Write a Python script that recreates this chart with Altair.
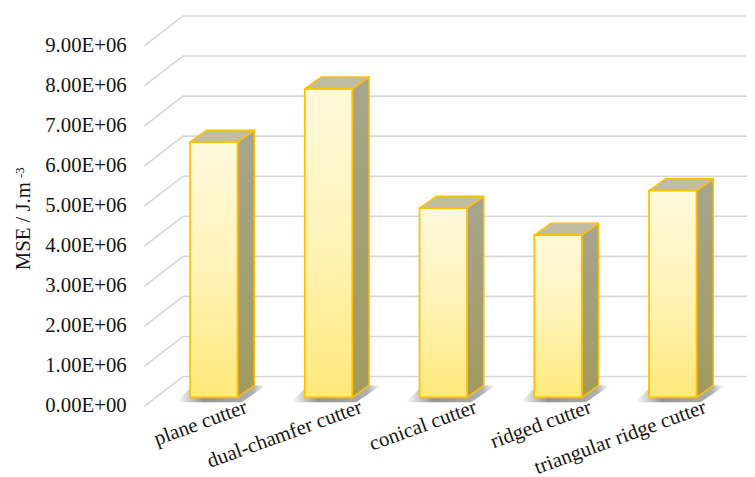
import altair as alt
import pandas as pd

# ---------------- data ----------------
categories = ["plane cutter", "dual-chamfer cutter", "conical cutter",
              "ridged cutter", "triangular ridge cutter"]
mse_values = [6.37e6, 7.70e6, 4.72e6, 4.05e6, 5.16e6]
tick_values = [0, 1e6, 2e6, 3e6, 4e6, 5e6, 6e6, 7e6, 8e6, 9e6]
y_title = "MSE / J.m"
y_title_sup = "-3"

# ---------------- geometry (pixels -> scale units) ----------------
PX_X = 116.0          # px per category step
PX_Y = 40.5e-6        # px per value unit
W, H = 609, 400
x_min = -70 / PX_X
x_max = x_min + W / PX_X
y_max = H / PX_Y

hw = 24 / PX_X                      # half bar width
bdx, bdy = 17 / PX_X, 12 / PX_Y     # bar depth
base = 9 / PX_Y                     # bar floor plane
wdx, wdy = 39 / PX_X, 30 / PX_Y     # back wall offset

FONT = "Liberation Serif"
GOLD = "#FFC000"
TXT = "#151515"

xs = alt.Scale(domain=[x_min, x_max], nice=False, zero=False)
ys = alt.Scale(domain=[0, y_max], nice=False, zero=False)

# ---------------- tables ----------------
front = pd.DataFrame({
    "cat": categories,
    "x": [i - hw for i in range(len(categories))],
    "x2": [i + hw for i in range(len(categories))],
    "y": [base] * len(categories),
    "y2": [base + v for v in mse_values],
})

grid_rows = []
for t in tick_values:
    grid_rows += [
        {"t": t, "o": 0, "x": x_min, "y": t},
        {"t": t, "o": 1, "x": x_min + wdx, "y": t + wdy},
        {"t": t, "o": 2, "x": x_max, "y": t + wdy},
    ]
grid = pd.DataFrame(grid_rows)

ylabels = pd.DataFrame({
    "x": [x_min] * len(tick_values),
    "y": tick_values,
    "label": [f"{t:.2E}" for t in tick_values],
})

xlabels = pd.DataFrame({
    "x": [i + 33 / PX_X for i in range(len(categories))],
    "y": [-0.5 / PX_Y] * len(categories),
    "label": categories,
})

# ---------------- layers ----------------
grid_layer = alt.Chart(grid).mark_line(color="#D6D6D6", strokeWidth=1.6).encode(
    x=alt.X("x:Q", scale=xs, axis=None),
    y=alt.Y("y:Q", scale=ys, axis=None),
    detail="t:N",
    order="o:Q",
)

shadow_fill = alt.LinearGradient(
    gradient="linear", x1=0, y1=0, x2=1, y2=0,
    stops=[alt.GradientStop(color="rgba(110,110,110,0)", offset=0),
           alt.GradientStop(color="rgba(100,100,100,0.7)", offset=0.3),
           alt.GradientStop(color="rgba(110,110,110,0.55)", offset=0.85),
           alt.GradientStop(color="rgba(120,120,120,0)", offset=1)])
side_fill = alt.LinearGradient(
    gradient="linear", x1=0, y1=0, x2=0, y2=1,
    stops=[alt.GradientStop(color="#A7A58E", offset=0),
           alt.GradientStop(color="#A29A5C", offset=1)])
front_fill = alt.LinearGradient(
    gradient="linear", x1=0, y1=0, x2=0, y2=1,
    stops=[alt.GradientStop(color="#FFF9DD", offset=0),
           alt.GradientStop(color="#FFF3B8", offset=0.5),
           alt.GradientStop(color="#FFE97C", offset=1)])

shadow_layers, side_layers, top_layers = [], [], []
for i, (c, v) in enumerate(zip(categories, mse_values)):
    sh = pd.DataFrame({
        "y": [base - 5 / PX_Y, base + bdy],
        "xl": [i - hw - 14 / PX_X, i - hw - 14 / PX_X + bdx],
        "xr": [i + hw + 4 / PX_X, i + hw + bdx + 12 / PX_X],
    })
    shadow_layers.append(
        alt.Chart(sh).mark_area(orient="horizontal", fill=shadow_fill).encode(
            y=alt.Y("y:Q", scale=ys, axis=None),
            x=alt.X("xl:Q", scale=xs, axis=None),
            x2="xr:Q",
        )
    )
    sd = pd.DataFrame({
        "x": [i + hw, i + hw + bdx],
        "lo": [base, base + bdy],
        "hi": [base + v, base + v + bdy],
    })
    side_layers.append(
        alt.Chart(sd).mark_area(orient="vertical", stroke=GOLD, strokeWidth=1.5,
                                strokeJoin="round", fill=side_fill).encode(
            x=alt.X("x:Q", scale=xs, axis=None),
            y=alt.Y("hi:Q", scale=ys, axis=None),
            y2="lo:Q",
        )
    )
    tp = pd.DataFrame({
        "y": [base + v, base + v + bdy],
        "xl": [i - hw, i - hw + bdx],
        "xr": [i + hw, i + hw + bdx],
    })
    top_layers.append(
        alt.Chart(tp).mark_area(orient="horizontal", stroke=GOLD, strokeWidth=1.5,
                                strokeJoin="round", fill="#C1BDA2").encode(
            y=alt.Y("y:Q", scale=ys, axis=None),
            x=alt.X("xl:Q", scale=xs, axis=None),
            x2="xr:Q",
        )
    )

front_layer = alt.Chart(front).mark_rect(
    stroke=GOLD, strokeWidth=1.8, fill=front_fill,
).encode(
    x=alt.X("x:Q", scale=xs, axis=None),
    x2="x2:Q",
    y=alt.Y("y:Q", scale=ys, axis=None),
    y2="y2:Q",
)

ylabel_layer = alt.Chart(ylabels).mark_text(
    align="right", baseline="middle", dx=-18, font=FONT, fontSize=21, color=TXT,
).encode(
    x=alt.X("x:Q", scale=xs, axis=None),
    y=alt.Y("y:Q", scale=ys, axis=None),
    text="label:N",
)

xlabel_layer = alt.Chart(xlabels).mark_text(
    align="right", baseline="middle", angle=340, font=FONT, fontSize=21, color=TXT,
).encode(
    x=alt.X("x:Q", scale=xs, axis=None),
    y=alt.Y("y:Q", scale=ys, axis=None),
    text="label:N",
)

title_layer = alt.Chart(pd.DataFrame({"t": [y_title]})).mark_text(
    align="center", baseline="alphabetic", angle=270, font=FONT, fontSize=21, color=TXT,
).encode(
    x=alt.value(-116), y=alt.value(218), text="t:N",
)
sup_layer = alt.Chart(pd.DataFrame({"t": [y_title_sup]})).mark_text(
    align="center", baseline="alphabetic", angle=270, font=FONT, fontSize=13, color=TXT,
).encode(
    x=alt.value(-122), y=alt.value(164), text="t:N",
)

chart = alt.layer(
    grid_layer, *shadow_layers, *side_layers, *top_layers, front_layer,
    ylabel_layer, xlabel_layer, title_layer, sup_layer,
).properties(
    width=W, height=H,
    autosize=alt.AutoSizeParams(type="none"),
    padding={"left": 138, "top": 0, "right": 0, "bottom": 69},
).configure_view(stroke=None)

chart.save("out.html", embed_options={"renderer": "svg", "actions": False})
